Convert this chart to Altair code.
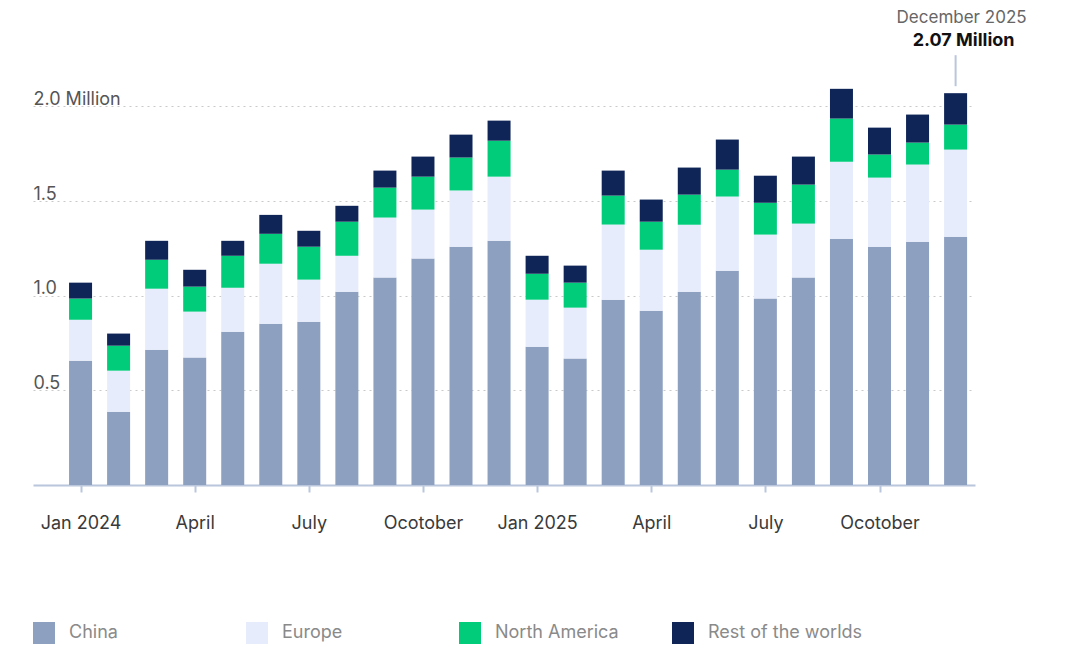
import altair as alt
import pandas as pd

# ---- data (million units), Jan 2024 .. Dec 2025 ----
month_index = list(range(24))
china = [0.657, 0.387, 0.715, 0.673, 0.810, 0.852, 0.863, 1.021, 1.096, 1.196, 1.259, 1.290,
         0.731, 0.668, 0.979, 0.921, 1.021, 1.132, 0.985, 1.096, 1.301, 1.259, 1.285, 1.312]
europe = [0.216, 0.217, 0.322, 0.243, 0.232, 0.317, 0.222, 0.190, 0.317, 0.259, 0.297, 0.339,
          0.248, 0.269, 0.397, 0.322, 0.354, 0.392, 0.338, 0.285, 0.407, 0.365, 0.408, 0.460]
north_america = [0.112, 0.132, 0.153, 0.132, 0.169, 0.158, 0.174, 0.180, 0.158, 0.174, 0.174, 0.190,
                 0.137, 0.132, 0.153, 0.148, 0.159, 0.142, 0.168, 0.206, 0.228, 0.122, 0.116, 0.132]
rest = [0.084, 0.064, 0.100, 0.089, 0.079, 0.100, 0.084, 0.084, 0.090, 0.106, 0.121, 0.106,
        0.095, 0.090, 0.132, 0.117, 0.143, 0.159, 0.143, 0.148, 0.157, 0.142, 0.148, 0.166]

series_names = ["China", "Europe", "North America", "Rest of the worlds"]
series_colors = ["#8da0c0", "#e6ecfc", "#00cc7a", "#0f2557"]
tick_values = [0, 3, 6, 9, 12, 15, 18, 21]
tick_labels = ["Jan 2024", "April", "July", "Ocotober", "Jan 2025", "April", "July", "Ocotober"]
y_ticks = [0.5, 1.0, 1.5, 2.0]
annot_title = "December 2025"

rows = []
for name, vals in zip(series_names, [china, europe, north_america, rest]):
    for i, v in zip(month_index, vals):
        rows.append({"m": i, "series": name, "value": v, "order": series_names.index(name)})
df = pd.DataFrame(rows)

last = month_index[-1]
total_last = round(china[-1] + europe[-1] + north_america[-1] + rest[-1], 2)
annot = pd.DataFrame([{"m": last, "total": total_last, "title": annot_title}])

FONT = "Inter"
FS = 18
label_arr = "[" + ",".join(f"'{t}'" for t in tick_labels) + "]"

x_scale = alt.Scale(domain=[-1.25, 23.51], nice=False, zero=False, padding=0)
y_scale = alt.Scale(domain=[0, 2.52], nice=False)

bars = alt.Chart(df).mark_bar(size=23).encode(
    x=alt.X("m:Q", scale=x_scale, title=None,
            axis=alt.Axis(values=tick_values, labelExpr=f"{label_arr}[datum.value/3]",
                          grid=False, domainColor="#b9c6dc", domainWidth=2,
                          tickColor="#b9c6dc", tickWidth=2, tickSize=7,
                          labelPadding=22, labelFontSize=FS, labelColor="#3a3a3a",
                          labelFont=FONT)),
    y=alt.Y("value:Q", stack="zero", scale=y_scale, title=None,
            axis=alt.Axis(values=y_ticks, format=".1f",
                          labelExpr="datum.value == 2 ? '2.0 Million' : datum.label",
                          domain=False, ticks=False, labelAlign="left",
                          labelBaseline="alphabetic", labelPadding=0, labelOffset=-2,
                          labelFontSize=FS, labelColor="#555555", labelFont=FONT,
                          gridColor="#c9c9c9", gridDash=[2, 4], gridWidth=1.2)),
    color=alt.Color("series:N", sort=series_names,
                    scale=alt.Scale(domain=series_names, range=series_colors),
                    legend=alt.Legend(title=None, orient="none", legendX=0, legendY=614,
                                      direction="horizontal", columns=4, gridAlign="all",
                                      columnPadding=22, symbolType="square", symbolSize=484,
                                      symbolStrokeWidth=0, labelFontSize=FS,
                                      labelColor="#8a8a8a", labelOffset=14, labelFont=FONT,
                                      labelLimit=300)),
    order=alt.Order("order:Q", sort="ascending"),
)

rule = alt.Chart(annot).transform_calculate(
    y1="datum.total + 7/189.3", y2="datum.total + 38/189.3"
).mark_rule(color="#b9c6dc", strokeWidth=2).encode(
    x="m:Q", y=alt.Y("y1:Q", scale=y_scale), y2="y2:Q"
)

text_title = alt.Chart(annot).mark_text(
    dy=-70, dx=6, fontSize=17, color="#666666", font=FONT, baseline="alphabetic"
).encode(x="m:Q", y=alt.Y("total:Q", scale=y_scale), text="title:N")

text_value = alt.Chart(annot).transform_calculate(
    lab="format(datum.total, '.2f') + ' Million'"
).mark_text(
    dy=-47, dx=8, fontSize=FS, fontWeight="bold", color="#111111", font=FONT, baseline="alphabetic"
).encode(x="m:Q", y=alt.Y("total:Q", scale=y_scale), text="lab:N")

chart = alt.layer(bars, rule, text_title, text_value).properties(
    width=942, height=477,
    padding={"left": 25, "top": 0, "right": 5, "bottom": 0},
).configure_view(stroke=None)

chart.save("out.html", embed_options={"renderer": "svg", "actions": False})
